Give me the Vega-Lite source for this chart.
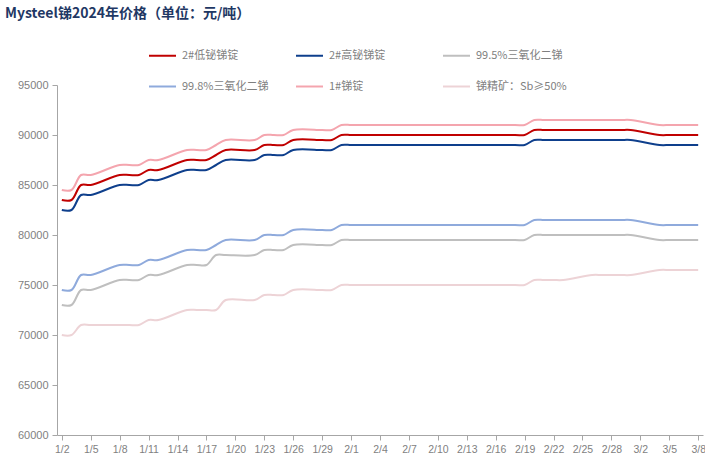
{
  "$schema": "https://vega.github.io/schema/vega-lite/v6.json",
  "width": 646,
  "height": 350,
  "autosize": "none",
  "padding": {"left": 57, "top": 85, "right": 2, "bottom": 38},
  "background": "white",
  "title": {"text": "Mysteel锑2024年价格（单位：元/吨）", "anchor": "start", "frame": "group", "dx": -52, "dy": -10, "fontSize": 14, "fontWeight": "bold", "color": "#1F3864", "font": "Noto Sans CJK SC", "offset": 10},
  "config": {"view": {"stroke": null}},
  "data": {"values": [
    {"date":"2024-01-02","series":"2#低铋锑锭","price":83500},
    {"date":"2024-01-03","series":"2#低铋锑锭","price":83500},
    {"date":"2024-01-04","series":"2#低铋锑锭","price":85000},
    {"date":"2024-01-05","series":"2#低铋锑锭","price":85000},
    {"date":"2024-01-08","series":"2#低铋锑锭","price":86000},
    {"date":"2024-01-09","series":"2#低铋锑锭","price":86000},
    {"date":"2024-01-10","series":"2#低铋锑锭","price":86000},
    {"date":"2024-01-11","series":"2#低铋锑锭","price":86500},
    {"date":"2024-01-12","series":"2#低铋锑锭","price":86500},
    {"date":"2024-01-15","series":"2#低铋锑锭","price":87500},
    {"date":"2024-01-16","series":"2#低铋锑锭","price":87500},
    {"date":"2024-01-17","series":"2#低铋锑锭","price":87500},
    {"date":"2024-01-18","series":"2#低铋锑锭","price":88000},
    {"date":"2024-01-19","series":"2#低铋锑锭","price":88500},
    {"date":"2024-01-22","series":"2#低铋锑锭","price":88500},
    {"date":"2024-01-23","series":"2#低铋锑锭","price":89000},
    {"date":"2024-01-24","series":"2#低铋锑锭","price":89000},
    {"date":"2024-01-25","series":"2#低铋锑锭","price":89000},
    {"date":"2024-01-26","series":"2#低铋锑锭","price":89500},
    {"date":"2024-01-29","series":"2#低铋锑锭","price":89500},
    {"date":"2024-01-30","series":"2#低铋锑锭","price":89500},
    {"date":"2024-01-31","series":"2#低铋锑锭","price":90000},
    {"date":"2024-02-01","series":"2#低铋锑锭","price":90000},
    {"date":"2024-02-02","series":"2#低铋锑锭","price":90000},
    {"date":"2024-02-04","series":"2#低铋锑锭","price":90000},
    {"date":"2024-02-05","series":"2#低铋锑锭","price":90000},
    {"date":"2024-02-06","series":"2#低铋锑锭","price":90000},
    {"date":"2024-02-07","series":"2#低铋锑锭","price":90000},
    {"date":"2024-02-08","series":"2#低铋锑锭","price":90000},
    {"date":"2024-02-09","series":"2#低铋锑锭","price":90000},
    {"date":"2024-02-18","series":"2#低铋锑锭","price":90000},
    {"date":"2024-02-19","series":"2#低铋锑锭","price":90000},
    {"date":"2024-02-20","series":"2#低铋锑锭","price":90500},
    {"date":"2024-02-21","series":"2#低铋锑锭","price":90500},
    {"date":"2024-02-22","series":"2#低铋锑锭","price":90500},
    {"date":"2024-02-23","series":"2#低铋锑锭","price":90500},
    {"date":"2024-02-26","series":"2#低铋锑锭","price":90500},
    {"date":"2024-02-27","series":"2#低铋锑锭","price":90500},
    {"date":"2024-02-28","series":"2#低铋锑锭","price":90500},
    {"date":"2024-02-29","series":"2#低铋锑锭","price":90500},
    {"date":"2024-03-01","series":"2#低铋锑锭","price":90500},
    {"date":"2024-03-04","series":"2#低铋锑锭","price":90000},
    {"date":"2024-03-05","series":"2#低铋锑锭","price":90000},
    {"date":"2024-03-06","series":"2#低铋锑锭","price":90000},
    {"date":"2024-03-07","series":"2#低铋锑锭","price":90000},
    {"date":"2024-03-08","series":"2#低铋锑锭","price":90000},

    {"date":"2024-01-02","series":"2#高铋锑锭","price":82500},
    {"date":"2024-01-03","series":"2#高铋锑锭","price":82500},
    {"date":"2024-01-04","series":"2#高铋锑锭","price":84000},
    {"date":"2024-01-05","series":"2#高铋锑锭","price":84000},
    {"date":"2024-01-08","series":"2#高铋锑锭","price":85000},
    {"date":"2024-01-09","series":"2#高铋锑锭","price":85000},
    {"date":"2024-01-10","series":"2#高铋锑锭","price":85000},
    {"date":"2024-01-11","series":"2#高铋锑锭","price":85500},
    {"date":"2024-01-12","series":"2#高铋锑锭","price":85500},
    {"date":"2024-01-15","series":"2#高铋锑锭","price":86500},
    {"date":"2024-01-16","series":"2#高铋锑锭","price":86500},
    {"date":"2024-01-17","series":"2#高铋锑锭","price":86500},
    {"date":"2024-01-18","series":"2#高铋锑锭","price":87000},
    {"date":"2024-01-19","series":"2#高铋锑锭","price":87500},
    {"date":"2024-01-22","series":"2#高铋锑锭","price":87500},
    {"date":"2024-01-23","series":"2#高铋锑锭","price":88000},
    {"date":"2024-01-24","series":"2#高铋锑锭","price":88000},
    {"date":"2024-01-25","series":"2#高铋锑锭","price":88000},
    {"date":"2024-01-26","series":"2#高铋锑锭","price":88500},
    {"date":"2024-01-29","series":"2#高铋锑锭","price":88500},
    {"date":"2024-01-30","series":"2#高铋锑锭","price":88500},
    {"date":"2024-01-31","series":"2#高铋锑锭","price":89000},
    {"date":"2024-02-01","series":"2#高铋锑锭","price":89000},
    {"date":"2024-02-02","series":"2#高铋锑锭","price":89000},
    {"date":"2024-02-04","series":"2#高铋锑锭","price":89000},
    {"date":"2024-02-05","series":"2#高铋锑锭","price":89000},
    {"date":"2024-02-06","series":"2#高铋锑锭","price":89000},
    {"date":"2024-02-07","series":"2#高铋锑锭","price":89000},
    {"date":"2024-02-08","series":"2#高铋锑锭","price":89000},
    {"date":"2024-02-09","series":"2#高铋锑锭","price":89000},
    {"date":"2024-02-18","series":"2#高铋锑锭","price":89000},
    {"date":"2024-02-19","series":"2#高铋锑锭","price":89000},
    {"date":"2024-02-20","series":"2#高铋锑锭","price":89500},
    {"date":"2024-02-21","series":"2#高铋锑锭","price":89500},
    {"date":"2024-02-22","series":"2#高铋锑锭","price":89500},
    {"date":"2024-02-23","series":"2#高铋锑锭","price":89500},
    {"date":"2024-02-26","series":"2#高铋锑锭","price":89500},
    {"date":"2024-02-27","series":"2#高铋锑锭","price":89500},
    {"date":"2024-02-28","series":"2#高铋锑锭","price":89500},
    {"date":"2024-02-29","series":"2#高铋锑锭","price":89500},
    {"date":"2024-03-01","series":"2#高铋锑锭","price":89500},
    {"date":"2024-03-04","series":"2#高铋锑锭","price":89000},
    {"date":"2024-03-05","series":"2#高铋锑锭","price":89000},
    {"date":"2024-03-06","series":"2#高铋锑锭","price":89000},
    {"date":"2024-03-07","series":"2#高铋锑锭","price":89000},
    {"date":"2024-03-08","series":"2#高铋锑锭","price":89000},

    {"date":"2024-01-02","series":"99.5%三氧化二锑","price":73000},
    {"date":"2024-01-03","series":"99.5%三氧化二锑","price":73000},
    {"date":"2024-01-04","series":"99.5%三氧化二锑","price":74500},
    {"date":"2024-01-05","series":"99.5%三氧化二锑","price":74500},
    {"date":"2024-01-08","series":"99.5%三氧化二锑","price":75500},
    {"date":"2024-01-09","series":"99.5%三氧化二锑","price":75500},
    {"date":"2024-01-10","series":"99.5%三氧化二锑","price":75500},
    {"date":"2024-01-11","series":"99.5%三氧化二锑","price":76000},
    {"date":"2024-01-12","series":"99.5%三氧化二锑","price":76000},
    {"date":"2024-01-15","series":"99.5%三氧化二锑","price":77000},
    {"date":"2024-01-16","series":"99.5%三氧化二锑","price":77000},
    {"date":"2024-01-17","series":"99.5%三氧化二锑","price":77000},
    {"date":"2024-01-18","series":"99.5%三氧化二锑","price":78000},
    {"date":"2024-01-19","series":"99.5%三氧化二锑","price":78000},
    {"date":"2024-01-22","series":"99.5%三氧化二锑","price":78000},
    {"date":"2024-01-23","series":"99.5%三氧化二锑","price":78500},
    {"date":"2024-01-24","series":"99.5%三氧化二锑","price":78500},
    {"date":"2024-01-25","series":"99.5%三氧化二锑","price":78500},
    {"date":"2024-01-26","series":"99.5%三氧化二锑","price":79000},
    {"date":"2024-01-29","series":"99.5%三氧化二锑","price":79000},
    {"date":"2024-01-30","series":"99.5%三氧化二锑","price":79000},
    {"date":"2024-01-31","series":"99.5%三氧化二锑","price":79500},
    {"date":"2024-02-01","series":"99.5%三氧化二锑","price":79500},
    {"date":"2024-02-02","series":"99.5%三氧化二锑","price":79500},
    {"date":"2024-02-04","series":"99.5%三氧化二锑","price":79500},
    {"date":"2024-02-05","series":"99.5%三氧化二锑","price":79500},
    {"date":"2024-02-06","series":"99.5%三氧化二锑","price":79500},
    {"date":"2024-02-07","series":"99.5%三氧化二锑","price":79500},
    {"date":"2024-02-08","series":"99.5%三氧化二锑","price":79500},
    {"date":"2024-02-09","series":"99.5%三氧化二锑","price":79500},
    {"date":"2024-02-18","series":"99.5%三氧化二锑","price":79500},
    {"date":"2024-02-19","series":"99.5%三氧化二锑","price":79500},
    {"date":"2024-02-20","series":"99.5%三氧化二锑","price":80000},
    {"date":"2024-02-21","series":"99.5%三氧化二锑","price":80000},
    {"date":"2024-02-22","series":"99.5%三氧化二锑","price":80000},
    {"date":"2024-02-23","series":"99.5%三氧化二锑","price":80000},
    {"date":"2024-02-26","series":"99.5%三氧化二锑","price":80000},
    {"date":"2024-02-27","series":"99.5%三氧化二锑","price":80000},
    {"date":"2024-02-28","series":"99.5%三氧化二锑","price":80000},
    {"date":"2024-02-29","series":"99.5%三氧化二锑","price":80000},
    {"date":"2024-03-01","series":"99.5%三氧化二锑","price":80000},
    {"date":"2024-03-04","series":"99.5%三氧化二锑","price":79500},
    {"date":"2024-03-05","series":"99.5%三氧化二锑","price":79500},
    {"date":"2024-03-06","series":"99.5%三氧化二锑","price":79500},
    {"date":"2024-03-07","series":"99.5%三氧化二锑","price":79500},
    {"date":"2024-03-08","series":"99.5%三氧化二锑","price":79500},

    {"date":"2024-01-02","series":"99.8%三氧化二锑","price":74500},
    {"date":"2024-01-03","series":"99.8%三氧化二锑","price":74500},
    {"date":"2024-01-04","series":"99.8%三氧化二锑","price":76000},
    {"date":"2024-01-05","series":"99.8%三氧化二锑","price":76000},
    {"date":"2024-01-08","series":"99.8%三氧化二锑","price":77000},
    {"date":"2024-01-09","series":"99.8%三氧化二锑","price":77000},
    {"date":"2024-01-10","series":"99.8%三氧化二锑","price":77000},
    {"date":"2024-01-11","series":"99.8%三氧化二锑","price":77500},
    {"date":"2024-01-12","series":"99.8%三氧化二锑","price":77500},
    {"date":"2024-01-15","series":"99.8%三氧化二锑","price":78500},
    {"date":"2024-01-16","series":"99.8%三氧化二锑","price":78500},
    {"date":"2024-01-17","series":"99.8%三氧化二锑","price":78500},
    {"date":"2024-01-18","series":"99.8%三氧化二锑","price":79000},
    {"date":"2024-01-19","series":"99.8%三氧化二锑","price":79500},
    {"date":"2024-01-22","series":"99.8%三氧化二锑","price":79500},
    {"date":"2024-01-23","series":"99.8%三氧化二锑","price":80000},
    {"date":"2024-01-24","series":"99.8%三氧化二锑","price":80000},
    {"date":"2024-01-25","series":"99.8%三氧化二锑","price":80000},
    {"date":"2024-01-26","series":"99.8%三氧化二锑","price":80500},
    {"date":"2024-01-29","series":"99.8%三氧化二锑","price":80500},
    {"date":"2024-01-30","series":"99.8%三氧化二锑","price":80500},
    {"date":"2024-01-31","series":"99.8%三氧化二锑","price":81000},
    {"date":"2024-02-01","series":"99.8%三氧化二锑","price":81000},
    {"date":"2024-02-02","series":"99.8%三氧化二锑","price":81000},
    {"date":"2024-02-04","series":"99.8%三氧化二锑","price":81000},
    {"date":"2024-02-05","series":"99.8%三氧化二锑","price":81000},
    {"date":"2024-02-06","series":"99.8%三氧化二锑","price":81000},
    {"date":"2024-02-07","series":"99.8%三氧化二锑","price":81000},
    {"date":"2024-02-08","series":"99.8%三氧化二锑","price":81000},
    {"date":"2024-02-09","series":"99.8%三氧化二锑","price":81000},
    {"date":"2024-02-18","series":"99.8%三氧化二锑","price":81000},
    {"date":"2024-02-19","series":"99.8%三氧化二锑","price":81000},
    {"date":"2024-02-20","series":"99.8%三氧化二锑","price":81500},
    {"date":"2024-02-21","series":"99.8%三氧化二锑","price":81500},
    {"date":"2024-02-22","series":"99.8%三氧化二锑","price":81500},
    {"date":"2024-02-23","series":"99.8%三氧化二锑","price":81500},
    {"date":"2024-02-26","series":"99.8%三氧化二锑","price":81500},
    {"date":"2024-02-27","series":"99.8%三氧化二锑","price":81500},
    {"date":"2024-02-28","series":"99.8%三氧化二锑","price":81500},
    {"date":"2024-02-29","series":"99.8%三氧化二锑","price":81500},
    {"date":"2024-03-01","series":"99.8%三氧化二锑","price":81500},
    {"date":"2024-03-04","series":"99.8%三氧化二锑","price":81000},
    {"date":"2024-03-05","series":"99.8%三氧化二锑","price":81000},
    {"date":"2024-03-06","series":"99.8%三氧化二锑","price":81000},
    {"date":"2024-03-07","series":"99.8%三氧化二锑","price":81000},
    {"date":"2024-03-08","series":"99.8%三氧化二锑","price":81000},

    {"date":"2024-01-02","series":"1#锑锭","price":84500},
    {"date":"2024-01-03","series":"1#锑锭","price":84500},
    {"date":"2024-01-04","series":"1#锑锭","price":86000},
    {"date":"2024-01-05","series":"1#锑锭","price":86000},
    {"date":"2024-01-08","series":"1#锑锭","price":87000},
    {"date":"2024-01-09","series":"1#锑锭","price":87000},
    {"date":"2024-01-10","series":"1#锑锭","price":87000},
    {"date":"2024-01-11","series":"1#锑锭","price":87500},
    {"date":"2024-01-12","series":"1#锑锭","price":87500},
    {"date":"2024-01-15","series":"1#锑锭","price":88500},
    {"date":"2024-01-16","series":"1#锑锭","price":88500},
    {"date":"2024-01-17","series":"1#锑锭","price":88500},
    {"date":"2024-01-18","series":"1#锑锭","price":89000},
    {"date":"2024-01-19","series":"1#锑锭","price":89500},
    {"date":"2024-01-22","series":"1#锑锭","price":89500},
    {"date":"2024-01-23","series":"1#锑锭","price":90000},
    {"date":"2024-01-24","series":"1#锑锭","price":90000},
    {"date":"2024-01-25","series":"1#锑锭","price":90000},
    {"date":"2024-01-26","series":"1#锑锭","price":90500},
    {"date":"2024-01-29","series":"1#锑锭","price":90500},
    {"date":"2024-01-30","series":"1#锑锭","price":90500},
    {"date":"2024-01-31","series":"1#锑锭","price":91000},
    {"date":"2024-02-01","series":"1#锑锭","price":91000},
    {"date":"2024-02-02","series":"1#锑锭","price":91000},
    {"date":"2024-02-04","series":"1#锑锭","price":91000},
    {"date":"2024-02-05","series":"1#锑锭","price":91000},
    {"date":"2024-02-06","series":"1#锑锭","price":91000},
    {"date":"2024-02-07","series":"1#锑锭","price":91000},
    {"date":"2024-02-08","series":"1#锑锭","price":91000},
    {"date":"2024-02-09","series":"1#锑锭","price":91000},
    {"date":"2024-02-18","series":"1#锑锭","price":91000},
    {"date":"2024-02-19","series":"1#锑锭","price":91000},
    {"date":"2024-02-20","series":"1#锑锭","price":91500},
    {"date":"2024-02-21","series":"1#锑锭","price":91500},
    {"date":"2024-02-22","series":"1#锑锭","price":91500},
    {"date":"2024-02-23","series":"1#锑锭","price":91500},
    {"date":"2024-02-26","series":"1#锑锭","price":91500},
    {"date":"2024-02-27","series":"1#锑锭","price":91500},
    {"date":"2024-02-28","series":"1#锑锭","price":91500},
    {"date":"2024-02-29","series":"1#锑锭","price":91500},
    {"date":"2024-03-01","series":"1#锑锭","price":91500},
    {"date":"2024-03-04","series":"1#锑锭","price":91000},
    {"date":"2024-03-05","series":"1#锑锭","price":91000},
    {"date":"2024-03-06","series":"1#锑锭","price":91000},
    {"date":"2024-03-07","series":"1#锑锭","price":91000},
    {"date":"2024-03-08","series":"1#锑锭","price":91000},

    {"date":"2024-01-02","series":"锑精矿：Sb≥50%","price":70000},
    {"date":"2024-01-03","series":"锑精矿：Sb≥50%","price":70000},
    {"date":"2024-01-04","series":"锑精矿：Sb≥50%","price":71000},
    {"date":"2024-01-05","series":"锑精矿：Sb≥50%","price":71000},
    {"date":"2024-01-08","series":"锑精矿：Sb≥50%","price":71000},
    {"date":"2024-01-09","series":"锑精矿：Sb≥50%","price":71000},
    {"date":"2024-01-10","series":"锑精矿：Sb≥50%","price":71000},
    {"date":"2024-01-11","series":"锑精矿：Sb≥50%","price":71500},
    {"date":"2024-01-12","series":"锑精矿：Sb≥50%","price":71500},
    {"date":"2024-01-15","series":"锑精矿：Sb≥50%","price":72500},
    {"date":"2024-01-16","series":"锑精矿：Sb≥50%","price":72500},
    {"date":"2024-01-17","series":"锑精矿：Sb≥50%","price":72500},
    {"date":"2024-01-18","series":"锑精矿：Sb≥50%","price":72500},
    {"date":"2024-01-19","series":"锑精矿：Sb≥50%","price":73500},
    {"date":"2024-01-22","series":"锑精矿：Sb≥50%","price":73500},
    {"date":"2024-01-23","series":"锑精矿：Sb≥50%","price":74000},
    {"date":"2024-01-24","series":"锑精矿：Sb≥50%","price":74000},
    {"date":"2024-01-25","series":"锑精矿：Sb≥50%","price":74000},
    {"date":"2024-01-26","series":"锑精矿：Sb≥50%","price":74500},
    {"date":"2024-01-29","series":"锑精矿：Sb≥50%","price":74500},
    {"date":"2024-01-30","series":"锑精矿：Sb≥50%","price":74500},
    {"date":"2024-01-31","series":"锑精矿：Sb≥50%","price":75000},
    {"date":"2024-02-01","series":"锑精矿：Sb≥50%","price":75000},
    {"date":"2024-02-02","series":"锑精矿：Sb≥50%","price":75000},
    {"date":"2024-02-04","series":"锑精矿：Sb≥50%","price":75000},
    {"date":"2024-02-05","series":"锑精矿：Sb≥50%","price":75000},
    {"date":"2024-02-06","series":"锑精矿：Sb≥50%","price":75000},
    {"date":"2024-02-07","series":"锑精矿：Sb≥50%","price":75000},
    {"date":"2024-02-08","series":"锑精矿：Sb≥50%","price":75000},
    {"date":"2024-02-09","series":"锑精矿：Sb≥50%","price":75000},
    {"date":"2024-02-18","series":"锑精矿：Sb≥50%","price":75000},
    {"date":"2024-02-19","series":"锑精矿：Sb≥50%","price":75000},
    {"date":"2024-02-20","series":"锑精矿：Sb≥50%","price":75500},
    {"date":"2024-02-21","series":"锑精矿：Sb≥50%","price":75500},
    {"date":"2024-02-22","series":"锑精矿：Sb≥50%","price":75500},
    {"date":"2024-02-23","series":"锑精矿：Sb≥50%","price":75500},
    {"date":"2024-02-26","series":"锑精矿：Sb≥50%","price":76000},
    {"date":"2024-02-27","series":"锑精矿：Sb≥50%","price":76000},
    {"date":"2024-02-28","series":"锑精矿：Sb≥50%","price":76000},
    {"date":"2024-02-29","series":"锑精矿：Sb≥50%","price":76000},
    {"date":"2024-03-01","series":"锑精矿：Sb≥50%","price":76000},
    {"date":"2024-03-04","series":"锑精矿：Sb≥50%","price":76500},
    {"date":"2024-03-05","series":"锑精矿：Sb≥50%","price":76500},
    {"date":"2024-03-06","series":"锑精矿：Sb≥50%","price":76500},
    {"date":"2024-03-07","series":"锑精矿：Sb≥50%","price":76500},
    {"date":"2024-03-08","series":"锑精矿：Sb≥50%","price":76500}
  ]},
  "mark": {"type": "line", "interpolate": "catmull-rom", "strokeWidth": 2},
  "encoding": {
    "x": {
      "field": "date", "type": "temporal",
      "scale": {"type": "utc", "domain": [{"year": 2024, "month": 1, "date": 1, "hours": 12, "utc": true}, {"year": 2024, "month": 3, "date": 8, "hours": 12, "utc": true}]},
      "axis": {
        "title": null, "format": "%-m/%-d", "labelAngle": 0, "grid": false,
        "values": [
          {"year":2024,"month":1,"date":2,"utc":true},{"year":2024,"month":1,"date":5,"utc":true},{"year":2024,"month":1,"date":8,"utc":true},
          {"year":2024,"month":1,"date":11,"utc":true},{"year":2024,"month":1,"date":14,"utc":true},{"year":2024,"month":1,"date":17,"utc":true},
          {"year":2024,"month":1,"date":20,"utc":true},{"year":2024,"month":1,"date":23,"utc":true},{"year":2024,"month":1,"date":26,"utc":true},
          {"year":2024,"month":1,"date":29,"utc":true},{"year":2024,"month":2,"date":1,"utc":true},{"year":2024,"month":2,"date":4,"utc":true},
          {"year":2024,"month":2,"date":7,"utc":true},{"year":2024,"month":2,"date":10,"utc":true},{"year":2024,"month":2,"date":13,"utc":true},
          {"year":2024,"month":2,"date":16,"utc":true},{"year":2024,"month":2,"date":19,"utc":true},{"year":2024,"month":2,"date":22,"utc":true},
          {"year":2024,"month":2,"date":25,"utc":true},{"year":2024,"month":2,"date":28,"utc":true},{"year":2024,"month":3,"date":2,"utc":true},
          {"year":2024,"month":3,"date":5,"utc":true},{"year":2024,"month":3,"date":8,"utc":true}
        ],
        "domainColor": "#A6A6A6", "tickColor": "#A6A6A6", "tickSize": 5,
        "labelColor": "#7F7F7F", "labelFont": "Liberation Sans", "labelFontSize": 10.5, "labelPadding": 4,
        "labelOverlap": false, "labelFlush": false
      }
    },
    "y": {
      "field": "price", "type": "quantitative",
      "scale": {"domain": [60000, 95000], "nice": false, "zero": false},
      "axis": {
        "title": null, "grid": false, "format": "d",
        "values": [60000, 65000, 70000, 75000, 80000, 85000, 90000, 95000],
        "domainColor": "#A6A6A6", "tickColor": "#A6A6A6", "tickSize": 5,
        "labelColor": "#7F7F7F", "labelFont": "Liberation Sans", "labelFontSize": 11, "labelPadding": 4
      }
    },
    "color": {
      "field": "series", "type": "nominal",
      "scale": {
        "domain": ["2#低铋锑锭", "2#高铋锑锭", "99.5%三氧化二锑", "99.8%三氧化二锑", "1#锑锭", "锑精矿：Sb≥50%"],
        "range": ["#C00000", "#0E3F8C", "#BFBFBF", "#8FAADC", "#F4A5AE", "#EDD3D6"]
      },
      "legend": {
        "title": null, "orient": "none", "legendX": 91, "legendY": -44,
        "direction": "horizontal", "columns": 3, "gridAlign": "all",
        "columnPadding": 19, "rowPadding": 11,
        "symbolType": "stroke", "symbolSize": 729, "symbolStrokeWidth": 2,
        "labelFont": "Noto Sans CJK SC", "labelFontSize": 11, "labelColor": "#7F7F7F",
        "labelOffset": 5, "labelLimit": 200
      }
    }
  }
}
